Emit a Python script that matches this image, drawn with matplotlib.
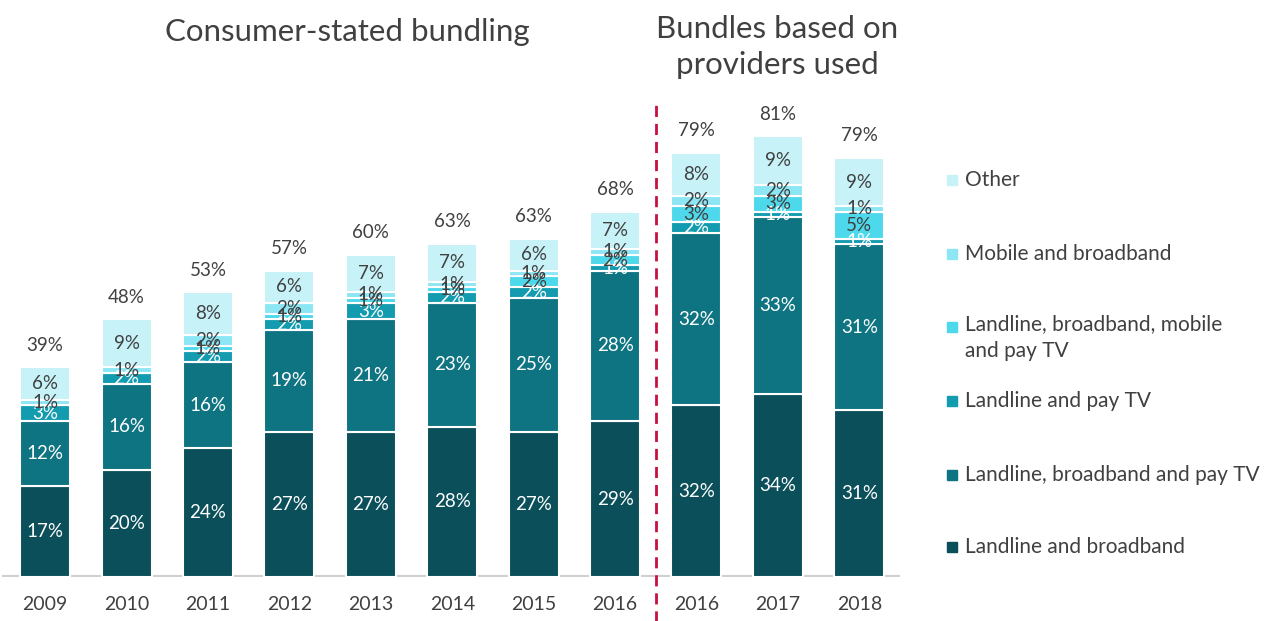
import matplotlib
matplotlib.use('Agg')
import matplotlib.pyplot as plt
from matplotlib.patches import Rectangle
import numpy as np

years = ['2009', '2010', '2011', '2012', '2013', '2014', '2015', '2016', '2016', '2017', '2018']
totals = [39, 48, 53, 57, 60, 63, 63, 68, 79, 81, 79]

series = ['Landline and broadband', 'Landline, broadband and pay TV', 'Landline and pay TV',
          'Landline, broadband, mobile\nand pay TV', 'Mobile and broadband', 'Other']

land_bb = [17, 20, 24, 27, 27, 28, 27, 29, 32, 34, 31]
land_bb_tv = [12, 16, 16, 19, 21, 23, 25, 28, 32, 33, 31]
land_tv = [3, 2, 2, 2, 3, 2, 2, 1, 2, 1, 1]
land_bb_mob_tv = [0, 0, 1, 1, 1, 1, 2, 2, 3, 3, 5]
mob_bb = [1, 1, 2, 2, 1, 1, 1, 1, 2, 2, 1]
other = [6, 9, 8, 6, 7, 7, 6, 7, 8, 9, 9]

values = [land_bb, land_bb_tv, land_tv, land_bb_mob_tv, mob_bb, other]
colors = ['#0A4F59', '#0F7482', '#139CB0', '#4DD9EB', '#8CE6F3', '#C6F2F8']
label_colors = ['white', 'white', 'white', '#404040', '#404040', '#404040']

font = 'Lato'
txt = '#404040'

fig = plt.figure(figsize=(12.75, 6.21), dpi=100)
ax = fig.add_axes([2/1275, 44/621, 898/1275, 577/621])

x = np.arange(len(years))
bottom = np.zeros(len(years))
for vals, c, lc in zip(values, colors, label_colors):
    vals = np.array(vals, dtype=float)
    ax.bar(x, vals, 0.615, bottom=bottom, color=c, edgecolor='white', linewidth=1.5)
    for xi, b, v in zip(x, bottom, vals):
        if v > 0:
            ax.text(xi, b + v / 2, '%d%%' % v, ha='center', va='center', color=lc,
                    fontsize=13.5, family=font)
    bottom += vals

for xi, b, t in zip(x, bottom, totals):
    ax.text(xi, b + 4.1, '%d%%' % t, ha='center', va='center', color=txt, fontsize=13.5, family=font)

ax.set_xlim(-0.53, 10.5)
ax.set_ylim(0, 107.4)
ax.axhline(0, color='#D0D0D0', lw=3, zorder=0)
ax.axvline(7.5, ymin=-0.08, ymax=0.818, color='#C8103E', lw=2, ls=(0, (4, 2.5)), clip_on=False)
for s in ax.spines.values():
    s.set_visible(False)
ax.set_yticks([])
ax.set_xticks(x)
ax.set_xticklabels(years, fontsize=14, color=txt, family=font)
ax.tick_params(axis='x', length=0, pad=14)

fig.text(347/1275, 1 - 32/621, 'Consumer-stated bundling', ha='center', va='center',
         fontsize=22.5, color=txt, family=font)
fig.text(777/1275, 1 - 47/621, 'Bundles based on\nproviders used', ha='center', va='center',
         fontsize=22.5, color=txt, family=font, linespacing=1.35)

# legend, top to bottom
leg_y = [180, 254, 327, 401, 475, 547]
for i, yy in enumerate(leg_y):
    k = len(series) - 1 - i
    fig.patches.append(Rectangle((947/1275, 1 - (yy + 5)/621), 10/1275, 10/621,
                                 transform=fig.transFigure, color=colors[k]))
    if '\n' in series[k]:
        fig.text(965/1275, 1 - (yy - 13)/621, series[k], ha='left', va='top',
                 fontsize=15, color=txt, family=font, linespacing=1.45)
    else:
        fig.text(965/1275, 1 - yy/621, series[k], ha='left', va='center',
                 fontsize=15, color=txt, family=font)

fig.savefig('out.png', dpi=100)
